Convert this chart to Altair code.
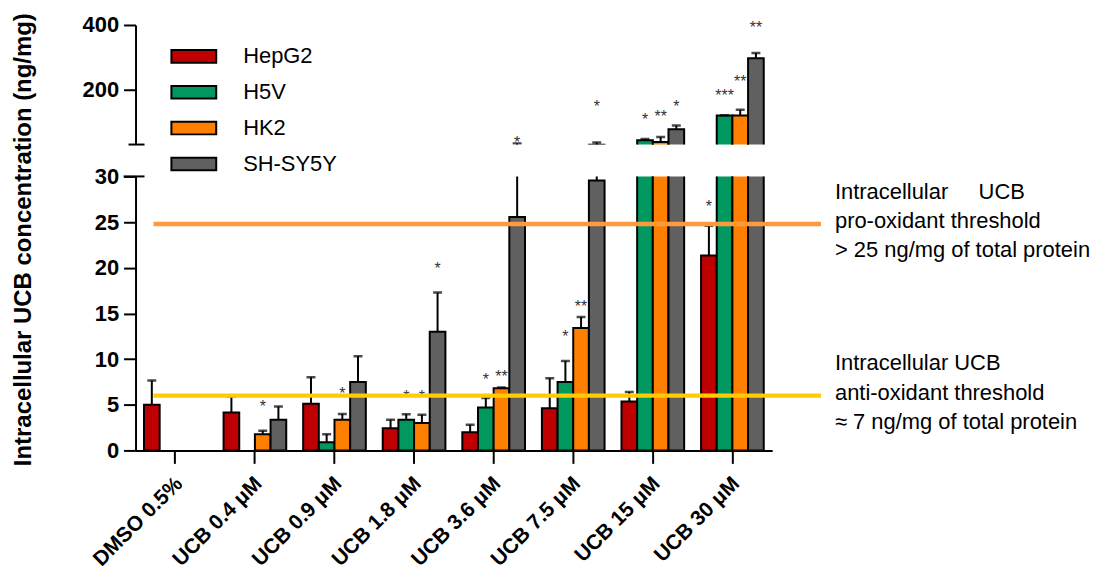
import altair as alt
import pandas as pd

categories = ["DMSO 0.5%", "UCB 0.4 μM", "UCB 0.9 μM", "UCB 1.8 μM",
              "UCB 3.6 μM", "UCB 7.5 μM", "UCB 15 μM", "UCB 30 μM"]
cells = ["HepG2", "H5V", "HK2", "SH-SY5Y"]
colors = ["#BF0000", "#00985E", "#FF8000", "#606060"]

# bar heights (mean) and top of the error bar (mean + SD)
hepg2_mean = [5.0, 4.16, 5.1, 2.44, 2.0, 4.63, 5.36, 21.35]
hepg2_upper = [7.66, 5.9, 8.0, 3.35, 2.8, 7.9, 6.4, 24.6]
h5v_mean = [None, None, 0.9, 3.35, 4.7, 7.48, 43, 120]
h5v_upper = [None, None, 1.78, 3.97, 5.73, 9.8, 47, 121]
hk2_mean = [None, 1.78, 3.35, 2.99, 6.82, 13.4, 38, 120]
hk2_upper = [None, 2.15, 4.0, 3.9, 6.9, 14.6, 53, 138]
shsy5y_mean = [None, 3.35, 7.5, 13.0, 25.55, 29.56, 77, 297]
shsy5y_upper = [None, 4.8, 10.3, 17.3, 33, 36, 89, 313]

# significance marks
star_category = ["UCB 0.4 μM", "UCB 0.9 μM", "UCB 1.8 μM", "UCB 1.8 μM", "UCB 1.8 μM",
                 "UCB 3.6 μM", "UCB 3.6 μM", "UCB 3.6 μM",
                 "UCB 7.5 μM", "UCB 7.5 μM", "UCB 7.5 μM",
                 "UCB 15 μM", "UCB 15 μM", "UCB 15 μM",
                 "UCB 30 μM", "UCB 30 μM", "UCB 30 μM", "UCB 30 μM"]
star_cell = ["HK2", "HK2", "H5V", "HK2", "SH-SY5Y",
             "H5V", "HK2", "SH-SY5Y",
             "H5V", "HK2", "SH-SY5Y",
             "H5V", "HK2", "SH-SY5Y",
             "HepG2", "H5V", "HK2", "SH-SY5Y"]
star_label = ["*", "*", "*", "*", "*",
              "*", "**", "*",
              "*", "**", "*",
              "*", "**", "*",
              "*", "***", "**", "**"]
star_y = [5.2, 6.57, 6.27, 6.27, 20.3,
          8.1, 8.46, 46,
          12.84, 16.1, 158,
          118, 126, 158,
          27.1, 192, 236, 402]

pro_threshold = 24.8
anti_threshold = 6.0
pro_text = ["Intracellular\u00a0\u00a0\u00a0\u00a0 UCB", "pro-oxidant threshold",
            "> 25 ng/mg of total protein"]
anti_text = ["Intracellular UCB", "anti-oxidant threshold",
             "\u2248 7 ng/mg of total protein"]

upper_ticks = [200, 400]
lower_ticks = [0, 5, 10, 15, 20, 25, 30]
y_title = "Intracellular UCB concentration (ng/mg)"

rows = []
for cell, means, uppers in [("HepG2", hepg2_mean, hepg2_upper),
                            ("H5V", h5v_mean, h5v_upper),
                            ("HK2", hk2_mean, hk2_upper),
                            ("SH-SY5Y", shsy5y_mean, shsy5y_upper)]:
    for cat, m, u in zip(categories, means, uppers):
        if m is not None:
            rows.append({"category": cat, "cell": cell, "mean": m, "upper": u})
bars = pd.DataFrame(rows)
stars = pd.DataFrame({"category": star_category, "cell": star_cell,
                      "label": star_label, "y": star_y})
one = pd.DataFrame({"k": [0]})

FONT = "Liberation Sans"
W = 639

x_enc = alt.X("category:N", sort=categories,
              scale=alt.Scale(paddingInner=0.2125, paddingOuter=0.10625))
xo_enc = alt.XOffset("cell:N", sort=cells,
                     scale=alt.Scale(paddingInner=0, paddingOuter=0))
color_enc = alt.Color(
    "cell:N", sort=cells, scale=alt.Scale(domain=cells, range=colors),
    legend=alt.Legend(orient="none", legendX=46, legendY=19, title=None,
                      symbolType="M-2,-0.56L2,-0.56L2,0.56L-2,0.56Z",
                      symbolSize=506, symbolStrokeColor="black",
                      symbolStrokeWidth=2, symbolOpacity=1,
                      labelFontSize=22, labelFont=FONT, labelColor="black",
                      labelOffset=37, rowPadding=12, padding=0))

axis_common = dict(domainColor="black", domainWidth=2, tickColor="black",
                   tickWidth=2, tickSize=12, labelFont=FONT, labelFontSize=22,
                   labelFontWeight="bold", labelColor="black", labelPadding=5,
                   grid=False)


def panel(domain, y_axis, x_axis, star_filter):
    ysc = alt.Scale(domain=domain, nice=False, zero=False)
    base = alt.Chart(bars)
    b = base.mark_bar(stroke="black", strokeWidth=2, clip=True).encode(
        x=alt.X("category:N", sort=categories,
                scale=alt.Scale(paddingInner=0.2125, paddingOuter=0.10625),
                axis=x_axis, title=None),
        xOffset=xo_enc,
        y=alt.Y("mean:Q", scale=ysc, axis=y_axis),
        y2=alt.datum(0),
        color=color_enc,
    )
    err = base.mark_rule(color="black", strokeWidth=2, clip=True).encode(
        x=x_enc, xOffset=xo_enc, y="mean:Q", y2="upper:Q")
    cap = base.mark_tick(orient="horizontal", color="black", size=9,
                         thickness=2.5, clip=True).encode(
        x=x_enc, xOffset=xo_enc, y="upper:Q")
    st = alt.Chart(stars).transform_filter(star_filter).mark_text(
        font=FONT, fontSize=16, color="#333333", baseline="alphabetic", dy=9
    ).encode(x=x_enc, xOffset=xo_enc, y="y:Q", text="label:N")
    return [b, err, cap, st]


top_axis = alt.Axis(values=upper_ticks, title=None, **axis_common)
low_axis = alt.Axis(values=lower_ticks, title=y_title, titleFont=FONT,
                    titleFontSize=24, titleFontWeight="bold", titleColor="black",
                    titleAngle=270, titleX=-112, titleY=63, titleAlign="center",
                    titleBaseline="middle", **axis_common)
x_axis = alt.Axis(title=None, labelAngle=315, labelAlign="right",
                  labelBaseline="middle", labelFont=FONT, labelFontSize=21,
                  labelFontWeight="bold", labelColor="black", labelPadding=17,
                  labelOffset=4, labelOverlap=False, domainColor="black",
                  domainWidth=2, tickColor="black", tickWidth=2, tickSize=13)

top_layers = panel([30, 400], top_axis, None, alt.datum.y >= 30)
top_cap = alt.Chart(one).mark_rule(color="black", strokeWidth=2).encode(
    x=alt.value(-7), x2=alt.value(9), y=alt.datum(30))
top = alt.layer(*top_layers, top_cap).properties(width=W, height=120)

low_layers = panel([0, 30], low_axis, x_axis, alt.datum.y < 30)
low_cap = alt.Chart(one).mark_rule(color="black", strokeWidth=2).encode(
    x=alt.value(-12), x2=alt.value(9), y=alt.datum(30))
pro_rule = alt.Chart(one).mark_rule(color="#FF9A3C", strokeWidth=4.5).encode(
    x=alt.value(18), x2=alt.value(688), y=alt.datum(pro_threshold))
anti_rule = alt.Chart(one).mark_rule(color="#FFCC00", strokeWidth=4.5).encode(
    x=alt.value(18), x2=alt.value(688), y=alt.datum(anti_threshold))
pro_label = alt.Chart(one).mark_text(
    text=pro_text, font=FONT, fontSize=22, lineHeight=29.5, align="left",
    baseline="middle", dy=-32.5, color="black").encode(
    x=alt.value(702), y=alt.datum(pro_threshold))
anti_label = alt.Chart(one).mark_text(
    text=anti_text, font=FONT, fontSize=22, lineHeight=29.5, align="left",
    baseline="middle", dy=-32.5, color="black").encode(
    x=alt.value(702), y=alt.datum(anti_threshold))
low = alt.layer(*low_layers, low_cap, pro_rule, anti_rule, pro_label,
                anti_label).properties(width=W, height=275)

chart = alt.vconcat(top, low, spacing=32, bounds="flush").properties(
    padding={"left": 3, "top": 3, "right": 5, "bottom": 5}
).configure_view(stroke=None).configure_axisX(grid=False)

chart.save("out.html", embed_options={"renderer": "svg", "actions": False})
